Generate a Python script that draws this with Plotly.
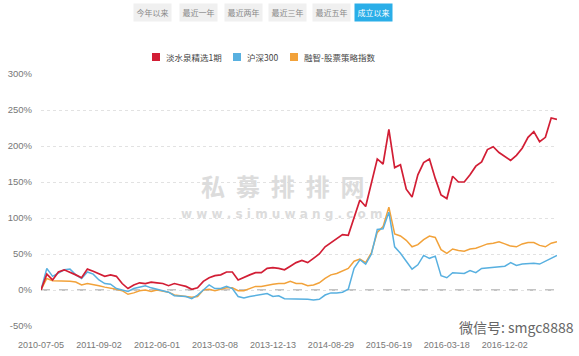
import plotly.graph_objects as go

tick_labels = ["2010-07-05", "2011-09-02", "2012-06-01", "2013-03-08", "2013-12-13",
               "2014-08-29", "2015-06-19", "2016-03-18", "2016-12-02"]
tick_index = [0, 10, 20, 30, 40, 50, 60, 70, 80]

fund = [0, 22, 14, 25, 28, 25, 21, 17, 29, 26,
        23, 19, 21, 19, 9, 2, 7, 10, 9, 11,
        10, 9, 6, 9, 7, 5, 1, 3, 12, 17,
        20, 21, 25, 25, 14, 18, 21, 24, 24, 30,
        31, 30, 28, 33, 38, 41, 38, 44, 50, 60,
        66, 71, 77, 76, 102, 125, 116, 150, 182, 175,
        223, 170, 174, 140, 129, 160, 177, 182, 155, 132,
        127, 158, 150, 150, 160, 172, 178, 195, 199, 191,
        185, 180, 187, 197, 212, 220, 206, 212, 239, 237]

hs300 = [0, 30, 19, 24, 28, 29, 21, 16, 25, 22,
         14, 9, 8, 2, 0, -2, 2, 4, 6, 3,
         1, -1, -3, -8, -8, -9, -12, -7, 0, 7,
         2, 2, 5, 2, -9, -11, -9, -8, -7, -5,
         -9, -8, -12, -12, -13, -12, -13, -14, -13, -7,
         -4, -4, -3, 1, 30, 42, 36, 50, 84, 85,
         108, 60, 51, 40, 29, 35, 48, 44, 47, 20,
         17, 24, 24, 23, 27, 24, 30, 31, 31, 33,
         33, 38, 34, 36, 37, 37, 36, 40, 45, 48]

index_strategy = [0, 16, 13, 13, 12, 12, 11, 7, 9, 8,
                  6, 4, 3, 1, -1, -6, -4, -1, 0, -2,
                  0, -1, -3, -7, -8, -9, -10, -9, 0, 1,
                  -1, 1, 3, 3, -1, -1, 2, 5, 5, 7,
                  8, 9, 9, 12, 9, 9, 6, 7, 10, 16,
                  21, 23, 26, 30, 40, 43, 38, 52, 80, 88,
                  115, 78, 75, 69, 60, 63, 70, 75, 73, 56,
                  51, 57, 55, 54, 57, 58, 61, 64, 65, 67,
                  64, 61, 60, 64, 66, 66, 62, 60, 65, 67]

series_names = ["淡水泉精选1期", "沪深300", "融智-股票策略指数"]
series_colors = ["#d21e35", "#58b0e0", "#f2a23a"]
buttons = ["今年以来", "最近一年", "最近两年", "最近三年", "最近五年", "成立以来"]
y_ticks = [-50, 0, 50, 100, 150, 200, 250, 300]

x = list(range(len(fund)))
fig = go.Figure()

for name, vals, col, w in [(series_names[2], index_strategy, series_colors[2], 1.5),
                           (series_names[1], hs300, series_colors[1], 1.5),
                           (series_names[0], fund, series_colors[0], 1.7)]:
    fig.add_trace(go.Scatter(x=x, y=vals, mode="lines", name=name,
                             line=dict(color=col, width=w),
                             showlegend=False, hoverinfo="skip"))

fig.add_shape(type="line", xref="paper", x0=0, x1=1, yref="y", y0=0, y1=0,
              line=dict(color="#888", width=1, dash="dash"), layer="below")

plot_l, plot_r, plot_t, plot_b = 41, 557, 74, 326

def px_x(p):
    return (p - plot_l) / (plot_r - plot_l)

def px_y(p):
    return (plot_b - p) / (plot_b - plot_t)

annos = []
# watermark
sp = " \u00a0"
annos.append(dict(text=sp.join("私募排排网"), x=px_x(283), y=px_y(185),
                  font=dict(size=24, color="#dcdcdc", family="Noto Sans CJK SC", weight="bold")))
annos.append(dict(text=" ".join("www.simuwang.com"), x=px_x(282), y=px_y(214),
                  font=dict(size=12, color="#dcdcdc", family="DejaVu Sans", weight="bold")))
annos.append(dict(text="微信号: smgc8888", x=px_x(576), y=px_y(327), xanchor="right",
                  font=dict(size=14, color="#666", family="Noto Sans CJK SC")))

# custom legend (squares + labels)
legend_sq_x = [152, 233, 290]
for name, col, sx in zip(series_names, series_colors, legend_sq_x):
    fig.add_shape(type="rect", xref="paper", yref="paper",
                  x0=px_x(sx), x1=px_x(sx + 8), y0=px_y(61), y1=px_y(53),
                  fillcolor=col, line=dict(width=0))
    annos.append(dict(text=name, x=px_x(sx + 12), y=px_y(57), xanchor="left",
                      font=dict(size=8.5, color="#444", family="Noto Sans CJK SC")))

# buttons
btn_centers = [152, 198, 243, 287, 331, 373]
for b, cx in zip(buttons, btn_centers):
    active = b == "成立以来"
    annos.append(dict(text=b, x=px_x(cx), y=px_y(12), width=35, height=15,
                      font=dict(size=8, color="#fff" if active else "#888",
                                family="Noto Sans CJK SC"),
                      bgcolor="#2aaee8" if active else "#f0f0f0", borderpad=1))

for a in annos:
    a.setdefault("xanchor", "center")
    a["yanchor"] = "middle"
    a["xref"] = "paper"
    a["yref"] = "paper"
    a["showarrow"] = False

fig.update_layout(
    width=579, height=356,
    margin=dict(l=plot_l, r=579 - plot_r, t=plot_t, b=356 - plot_b, autoexpand=False),
    plot_bgcolor="white", paper_bgcolor="white",
    font=dict(family="Noto Sans CJK SC, Noto Sans", size=10, color="#666"),
    showlegend=False,
    annotations=annos,
    xaxis=dict(range=[0, len(fund) - 1], tickvals=tick_index, ticktext=tick_labels,
               showgrid=False, zeroline=False, showline=False, ticks="", automargin=False,
               ticklabelstandoff=12,
               tickfont=dict(size=9, color="#777", family="Liberation Sans")),
    yaxis=dict(range=[-50, 300], tickvals=y_ticks, ticktext=[f"{v}%" for v in y_ticks],
               showgrid=True, gridcolor="#e2e2e2", griddash="dot", zeroline=False,
               showline=False, ticks="", ticklabelstandoff=8, automargin=False,
               tickfont=dict(size=9.5, color="#777", family="Liberation Sans")),
)

fig.write_html("out.html", config={"displayModeBar": False},
               post_script="document.body.style.margin='0';document.body.style.overflow='hidden';")
